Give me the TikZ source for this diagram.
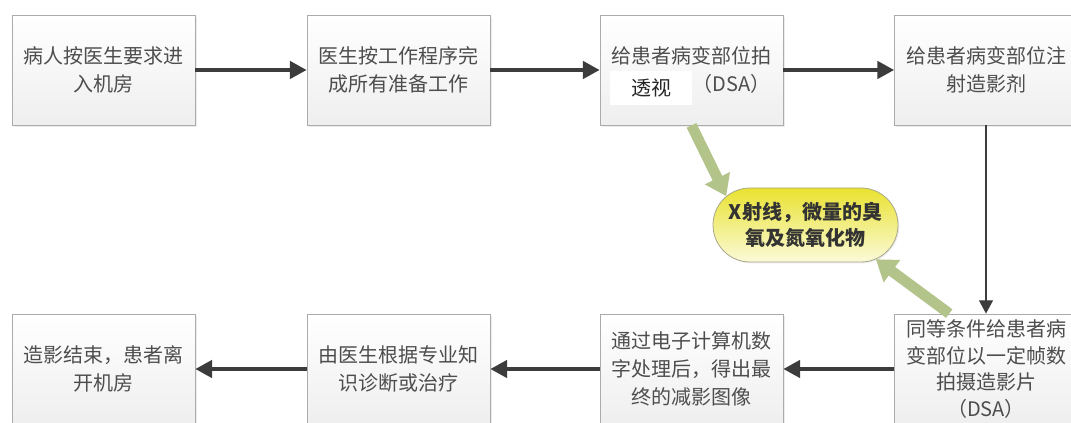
\documentclass[tikz,border=0pt]{standalone}
\usepackage{fontspec}
\setmainfont{Noto Sans CJK SC}
\usetikzlibrary{arrows.meta, shapes.misc, shadows, calc}

\definecolor{boxline}{HTML}{ABABAB}
\definecolor{boxtext}{HTML}{4D4D4D}
\definecolor{flowarrow}{HTML}{3C3C3C}
\definecolor{rayarrow}{HTML}{B3C48A}
\definecolor{bubbleline}{HTML}{A9A98A}
\definecolor{bubbletop}{HTML}{E9E230}
\definecolor{bubblebot}{HTML}{FBFAD9}

\tikzset{
  stepbox/.style={rectangle, draw=boxline, line width=0.6pt,
    top color=white, bottom color=gray!13,
    minimum width=137.25pt, minimum height=82.5pt, inner sep=0pt,
    align=center, text=boxtext, font=\fontsize{15}{21}\selectfont,
    drop shadow={opacity=0.15, shadow xshift=1.2pt, shadow yshift=-1.2pt}},
  flow/.style={draw=flowarrow, line width=2.6pt,
    -{Triangle[length=12.5pt,width=13pt]}},
  thinflow/.style={draw=flowarrow, line width=1.1pt,
    -{Triangle[length=10pt,width=10.5pt]}},
  ray/.style={draw=rayarrow, line width=8pt,
    -{Triangle[length=15pt,width=20pt]}},
  bubble/.style={rounded rectangle, draw=bubbleline, line width=0.6pt,
    top color=bubbletop, bottom color=bubblebot,
    minimum width=138.75pt, minimum height=55.5pt, inner sep=0pt,
    align=center, text=black!80, font=\fontsize{15}{19.5}\selectfont\bfseries,
    drop shadow={opacity=0.15, shadow xshift=1pt, shadow yshift=-1pt}}
}

\begin{document}
\begin{tikzpicture}[x=0.75pt, y=-0.75pt]
\fill[white] (0,0) rectangle (1071,423);
\clip (0,0) rectangle (1071,423);

% Top row
\node[stepbox] (enter) at (103.5,70) {病人按医生要求进\\入机房};
\node[stepbox] (prep) at (398.5,70) {医生按工作程序完\\成所有准备工作};
\node[stepbox] (scout) at (691.5,70) {给患者病变部位拍\\\phantom{摄造影片}（DSA）};
\node[fill=white, minimum width=62pt, minimum height=25.5pt, inner sep=0pt,
  font=\fontsize{15}{18}\selectfont, text=black!85] (patch) at (651,88) {透视};
\node[stepbox] (inject) at (986,70) {给患者病变部位注\\射造影剂};

% Bottom row
\node[stepbox] (frames) at (986,369)
  {同等条件给患者病\\[-1.2pt]变部位以一定帧数\\[-1.2pt]拍摄造影片\\[-1.2pt]（DSA）};
\node[stepbox] (subtract) at (691.5,369) {通过电子计算机数\\字处理后，得出最\\终的减影图像};
\node[stepbox] (diagnose) at (398.5,369) {由医生根据专业知\\识诊断或治疗};
\node[stepbox] (leave) at (103.5,369) {造影结束，患者离\\开机房};

% Side effect
\node[bubble] (xray) at (805.5,225) {X射线，微量的臭\\氧及氮氧化物};

% Flow arrows
\draw[flow] (enter) -- (prep);
\draw[flow] (prep) -- (scout);
\draw[flow] (scout) -- (inject);
\draw[thinflow] (inject) -- (frames);
\draw[flow] (frames) -- (subtract);
\draw[flow] (subtract) -- (diagnose);
\draw[flow] (diagnose) -- (leave);

% Radiation arrows
\draw[ray] (scout.south) -- (xray.160);
\coordinate (frames top) at ($(frames.north west)!0.3!(frames.north east)$);
\draw[ray] (frames top) -- (xray.334);
\end{tikzpicture}
\end{document}
